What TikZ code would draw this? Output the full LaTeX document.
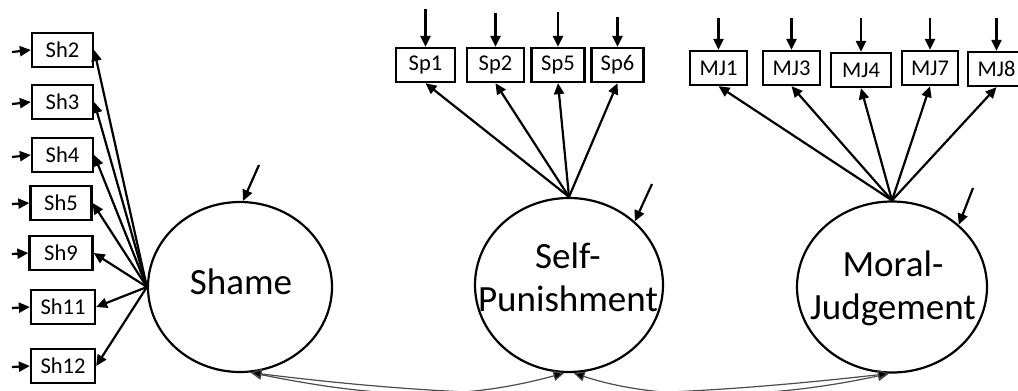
\documentclass[tikz,border=0pt]{standalone}
\usepackage{fontspec}
\setmainfont{Carlito}
\usetikzlibrary{arrows.meta,shapes.geometric}
\tikzset{
  tip/.tip={Triangle[length=11pt,width=10pt]},
  obs/.style={draw=black,line width=2.3pt,minimum height=34pt,minimum width=61pt,inner sep=0pt,font=\fontsize{22.5}{25}\selectfont},
  lat/.style={draw=black,line width=2.2pt,ellipse,inner sep=0pt},
  lattext/.style={align=center,inner sep=0pt,font=\fontsize{37}{43}\selectfont},
  load/.style={line width=2.2pt,-tip},
  err/.style={line width=2.2pt,-tip},
  cov/.style={line width=1.2pt,draw=black!70,{Triangle[length=11pt,width=10pt,fill=black]}-{Triangle[length=11pt,width=10pt,fill=black]}}
}
\begin{document}
\begin{tikzpicture}[x=1pt,y=-1pt]
\useasboundingbox (0,0) rectangle (1018,391);
% latent variables
\node[lat,minimum width=184pt,minimum height=170pt] (shame) at (240,287) {};
\node[lat,minimum width=188pt,minimum height=174pt] (sp) at (569,285) {};
\node[lat,minimum width=190pt,minimum height=171pt] (mj) at (892,287) {};
\node[lattext] (shameL) at (241,282) {Shame};
\node[lattext] (spL) at (568,277) {Self-\\Punishment};
\node[lattext] (mjL) at (893,288) {Moral-\\Judgement};
% shame indicators
\node[obs] (sh2) at (62.5,50) {Sh2};
\node[obs] (sh3) at (62.5,102) {Sh3};
\node[obs] (sh4) at (62.5,155) {Sh4};
\node[obs] (sh5) at (61,203) {Sh5};
\node[obs,minimum width=63pt] (sh9) at (61,253) {Sh9};
\node[obs,minimum width=64pt] (sh11) at (63,307) {Sh11};
\node[obs,minimum width=64pt] (sh12) at (63,366) {Sh12};
% self-punishment indicators
\node[obs,minimum width=59pt] (sp1) at (425.5,65) {Sp1};
\node[obs,minimum width=57pt] (sp2) at (495.5,65) {Sp2};
\node[obs,minimum width=53pt] (sp5) at (558,65) {Sp5};
\node[obs,minimum width=52pt] (sp6) at (617.5,65) {Sp6};
% moral judgement indicators
\node[obs,minimum width=57pt] (mj1) at (718.5,68) {MJ1};
\node[obs,minimum width=57pt] (mj3) at (791.5,68) {MJ3};
\node[obs,minimum width=60pt] (mj4) at (861,70) {MJ4};
\node[obs,minimum width=56pt] (mj7) at (930,68) {MJ7};
\node[obs,minimum width=57pt] (mj8) at (996.5,69) {MJ8};
% error arrow origins
\foreach \n/\y in {sh2/52,sh3/104,sh4/157,sh5/204,sh9/254,sh11/308,sh12/367}
  \coordinate (e\n) at (12,\y);
\coordinate (esp1) at (425.5,9);
\coordinate (esp2) at (495.5,13);
\coordinate (esp5) at (558,12);
\coordinate (esp6) at (617.5,17);
\foreach \n/\x in {mj1/718.5,mj3/791.5,mj4/861,mj7/930,mj8/996.5}
  \coordinate (e\n) at (\x,18);
\coordinate (eshame) at (259,165);
\coordinate (esp) at (652,184);
\coordinate (emj) at (973,188);
% error arrows
\foreach \n in {sh2,sh3,sh4,sh5,sh9,sh11,sh12}
  \draw[err] (e\n) -- (\n.west);
\foreach \n in {sp1,sp2,sp5,sp6,mj1,mj3,mj4,mj7,mj8}
  \draw[err] (e\n) -- (\n.north);
\draw[err] (eshame) -- (shame.88);
\draw[err] (esp) -- (sp.44);
\draw[err] (emj) -- (mj.43);
% loadings
\foreach \n in {sh2,sh3,sh4,sh5,sh9,sh11,sh12}
  \draw[load] (shame.west) -- (\n.east);
\foreach \n in {sp1,sp2,sp5,sp6}
  \draw[load] (sp.north) -- (\n.south);
\foreach \n in {mj1,mj3,mj4,mj7,mj8}
  \draw[load] (mj.north) -- (\n.south);
% covariances
\draw[cov] (shame.-83) .. controls +(120,24) and +(-110,30) .. (sp.-93);
\draw[cov] (sp.-87) .. controls +(90,30) and +(-110,24) .. (mj.-92);
\draw[cov] (shame.-83) .. controls +(240,30) and +(-230,26) .. (mj.-92);
\end{tikzpicture}
\end{document}
